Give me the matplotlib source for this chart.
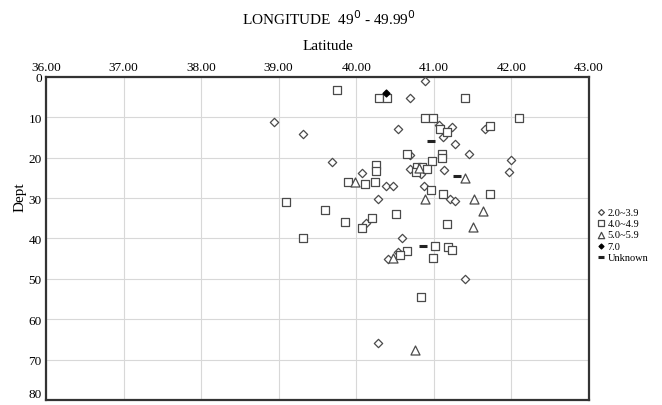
import matplotlib.pyplot as plt

plt.rcParams['font.family'] = 'Liberation Serif'

# magnitude groups: latitude / depth
lat_m2 = [40.89, 40.70, 38.94, 39.31, 40.54, 41.07, 41.24, 41.12, 41.28, 41.45, 41.66,
          40.70, 41.99, 41.97, 39.69, 40.08, 40.69, 40.83, 41.13, 40.39, 40.47, 40.28,
          40.88, 41.21, 41.28, 40.13, 40.59, 40.54, 40.41, 41.40, 40.28]
dep_m2 = [1.0, 5.1, 11.1, 14.1, 13.0, 12.0, 12.5, 14.9, 16.6, 19.1, 13.0,
          19.2, 20.5, 23.5, 21.1, 23.7, 22.7, 24.1, 23.0, 27.0, 27.0, 30.1,
          27.0, 30.1, 30.7, 36.2, 40.0, 43.3, 45.1, 50.0, 65.9]

lat_m4 = [39.75, 40.29, 40.40, 41.40, 40.89, 40.99, 42.10, 41.08, 41.17, 41.73, 40.65,
          41.11, 41.10, 40.98, 40.25, 40.25, 40.79, 40.85, 40.91, 40.77, 39.90, 40.11,
          40.24, 40.97, 41.12, 41.72, 39.10, 39.60, 39.85, 40.21, 40.08, 40.51, 39.32,
          41.17, 41.01, 41.19, 41.24, 40.99, 40.65, 40.57, 40.83]
dep_m4 = [3.1, 5.2, 5.2, 5.1, 10.2, 10.2, 10.2, 12.8, 13.5, 12.1, 19.1,
          19.1, 20.1, 20.9, 21.9, 23.3, 22.2, 22.2, 22.8, 23.5, 26.0, 26.4,
          26.0, 27.9, 29.1, 29.1, 30.9, 33.0, 35.8, 35.0, 37.3, 34.0, 39.8,
          36.3, 41.9, 42.2, 42.8, 44.9, 43.0, 44.0, 54.4]

lat_m5 = [40.81, 41.40, 39.99, 40.89, 41.52, 41.64, 41.51, 40.47, 40.76]
dep_m5 = [22.5, 25.1, 26.0, 30.1, 30.1, 33.1, 37.1, 44.9, 67.7]

lat_m7 = [40.39]
dep_m7 = [3.9]

lat_unk = [40.97, 41.30, 40.86]
dep_unk = [15.8, 24.5, 41.8]

xticks = [36, 37, 38, 39, 40, 41, 42, 43]
yticks = [0, 10, 20, 30, 40, 50, 60, 70, 80]

ec = '#4a4a4a'

fig = plt.figure(figsize=(6.62, 4.06), dpi=100)
ax = fig.add_axes([0.0695, 0.0123, 0.82, 0.7956])

ax.scatter(lat_m2, dep_m2, marker='D', s=18, facecolors='white', edgecolors=ec,
           linewidths=0.9, label='2.0~3.9', zorder=3)
ax.scatter(lat_m4, dep_m4, marker='s', s=40, facecolors='white', edgecolors=ec,
           linewidths=0.9, label='4.0~4.9', zorder=3)
ax.scatter(lat_m5, dep_m5, marker='^', s=42, facecolors='white', edgecolors=ec,
           linewidths=0.9, label='5.0~5.9', zorder=3)
ax.scatter(lat_m7, dep_m7, marker='D', s=12, color='black', label='7.0', zorder=4)
ax.scatter(lat_unk, dep_unk, marker='_', s=40, color='#222222', linewidths=2.2,
           label='Unknown', zorder=3)

ax.set_xlim(36, 43)
ax.set_ylim(80, 0)
ax.set_xticks(xticks)
ax.set_xticklabels(['%.2f' % v for v in xticks], fontsize=9.5)
ax.set_yticks(yticks)
ax.set_yticklabels([str(v) for v in yticks], fontsize=9.5)
ax.get_yticklabels()[-1].set_va('bottom')
ax.xaxis.tick_top()
ax.tick_params(length=0, pad=3)
ax.grid(True, color='#d8d8d8', linewidth=0.8)
ax.set_axisbelow(True)
for s in ax.spines.values():
    s.set_linewidth(1.6)
    s.set_color('#333333')

ax.set_ylabel('Dept', fontsize=11)
ax.yaxis.set_label_coords(-0.036, 0.63)

fig.text(0.497, 0.955, 'LONGITUDE  49$^{0}$ - 49.99$^{0}$', ha='center', va='center', fontsize=11)
fig.text(0.495, 0.885, 'Latitude', ha='center', va='center', fontsize=11)

fig.legend(loc='upper left', bbox_to_anchor=(0.889, 0.505), frameon=False,
           fontsize=7.5, handletextpad=0.1, labelspacing=0.2, borderpad=0.2,
           markerscale=0.7, handlelength=1.0)

fig.savefig('out.png', dpi=100)
